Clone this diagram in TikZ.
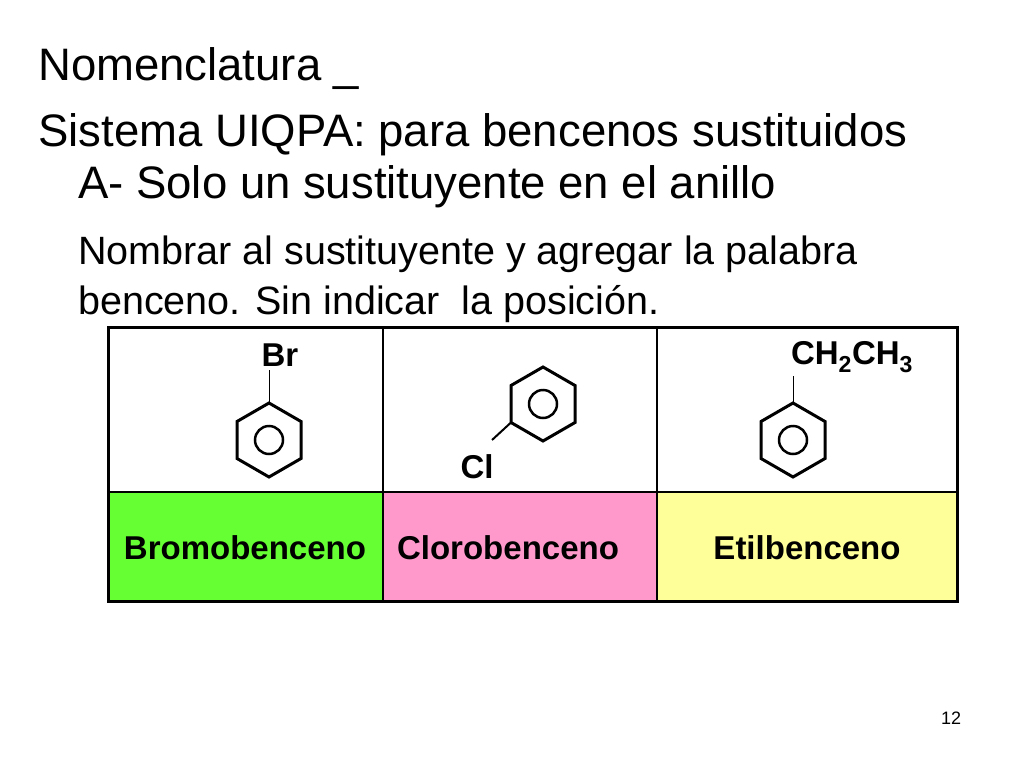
\documentclass[tikz,border=0pt]{standalone}
\usepackage{fontspec}
\setmainfont{Liberation Sans}
\definecolor{cgreen}{HTML}{66FF33}
\definecolor{cpink}{HTML}{FF99CC}
\definecolor{cyellow}{HTML}{FFFF99}
\begin{document}
\begin{tikzpicture}[x=1pt,y=-1pt,
  big/.style={anchor=base west,inner sep=0pt,font=\fontsize{45.5}{50}\selectfont},
  mid/.style={anchor=base west,inner sep=0pt,font=\fontsize{39.5}{44}\selectfont},
  lab/.style={inner sep=0pt,font=\bfseries\fontsize{33}{36}\selectfont},
  bond/.style={line width=3pt}]
\useasboundingbox (0,0) rectangle (1024,768);
\node[big] (t1) at (38,80) {Nomenclatura \_};
\node[big] (t2) at (38,146) {Sistema UIQPA: para bencenos sustituidos};
\node[big] (t3) at (78,198) {A- Solo un sustituyente en el anillo};
\node[mid] (t4) at (78,264) {Nombrar al sustituyente y agregar la palabra};
\node[mid] (t5) at (78,314) {benceno. Sin indicar\ \ la posición.};
% table
\fill[cgreen] (108,492) rectangle (383,601);
\fill[cpink] (383,492) rectangle (657,601);
\fill[cyellow] (657,492) rectangle (957,601);
\draw[line width=3pt] (108,327) rectangle (957,601);
\draw[line width=1.5pt] (108,492) -- (957,492) (383,327) -- (383,601) (657,327) -- (657,601);
\node[lab] (n1) at (245,548) {Bromobenceno};
\node[lab] (n2) at (508,548) {Clorobenceno};
\node[lab] (n3) at (807,548) {Etilbenceno};
% molecules
\foreach \cx/\cy/\nm in {269/440/a,543/404/b,793/440/c}{
  \draw[bond,line join=miter] (\cx,\cy-37) -- (\cx+32,\cy-18.5) -- (\cx+32,\cy+18.5) -- (\cx,\cy+37) -- (\cx-32,\cy+18.5) -- (\cx-32,\cy-18.5) -- cycle;
  \draw[line width=2.5pt] (\cx,\cy) circle (14);
  \coordinate (\nm) at (\cx,\cy);
}
\node[lab] (br) at (280,355) {Br};
\draw[line width=1pt] (269,403) -- (269,370);
\node[lab] (cl) at (477,467) {Cl};
\draw[line width=2pt] (511,422.5) -- (492,440);
\node[lab] (et) at (852,357) {CH\textsubscript{2}CH\textsubscript{3}};
\draw[line width=1pt] (793,403) -- (793,376);
\node[inner sep=0pt,font=\fontsize{18}{20}\selectfont] (pg) at (951,718) {12};
\end{tikzpicture}
\end{document}
